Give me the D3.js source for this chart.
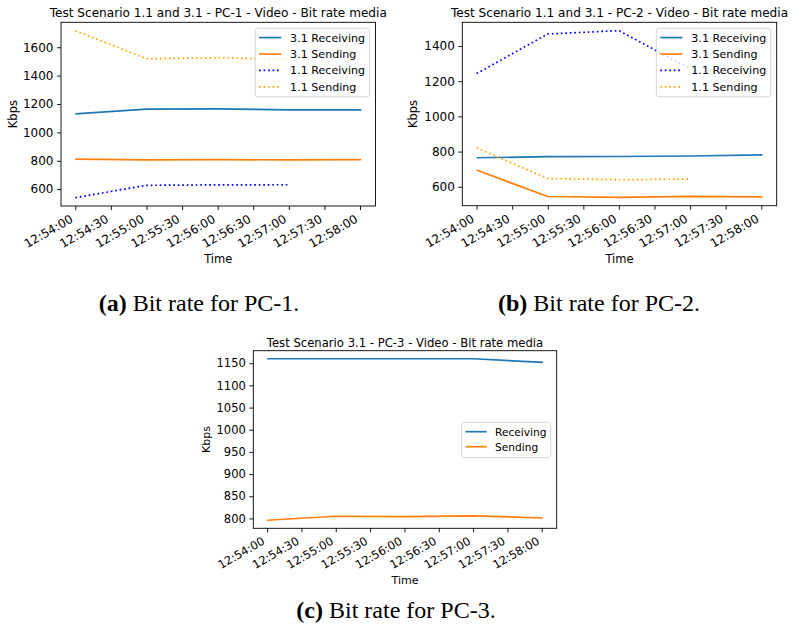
<!DOCTYPE html>
<html>
<head>
<meta charset="utf-8">
<script src="https://cdn.jsdelivr.net/npm/d3@7"></script>
<style>
  body { margin: 0; background: #fff; }
  svg { display: block; }
</style>
</head>
<body>
<svg id="fig" width="792" height="627"></svg>
<script>
// ---- data ----
const times31 = ["12:54:00", "12:55:00", "12:56:00", "12:57:00", "12:58:01"];
const times11 = ["12:54:00", "12:55:00", "12:56:00", "12:57:00"];
const xTickLabels = ["12:54:00", "12:54:30", "12:55:00", "12:55:30", "12:56:00",
                     "12:56:30", "12:57:00", "12:57:30", "12:58:00"];

// PC-1 (Kbps)
const pc1Receiving31 = [1131, 1164, 1166, 1158, 1159];
const pc1Sending31   = [811, 806, 808, 806, 808];
const pc1Receiving11 = [540, 627, 630, 631];
const pc1Sending11   = [1717, 1519, 1526, 1514];

// PC-2 (Kbps)
const pc2Receiving31 = [765, 771, 772, 775, 781];
const pc2Sending31   = [695, 545, 540, 546, 543];
const pc2Receiving11 = [1243, 1468, 1487, 1270];
const pc2Sending11   = [821, 647, 640, 644];

// PC-3 (Kbps)
const pc3Receiving = [1160, 1160, 1160, 1160, 1152];
const pc3Sending   = [796, 805, 804, 806, 801];

const yTicksPC1 = [600, 800, 1000, 1200, 1400, 1600];
const yTicksPC2 = [600, 800, 1000, 1200, 1400];
const yTicksPC3 = [800, 850, 900, 950, 1000, 1050, 1100, 1150];

const parseTime = d3.timeParse("%H:%M:%S");
const fmtTime = d3.timeFormat("%H:%M:%S");

const C_BLUE = "#1f77b4", C_ORANGE = "#ff7f0e";
const C_DBLUE = "#0000ff", C_DORANGE = "#ffa500";

const svg = d3.select("#fig");

// axis limits padded by 5% of the data span on each side
function pad5(ext) {
  const span = ext[1] - ext[0];
  return [ext[0] - span * 0.05, ext[1] + span * 0.05];
}

function drawPanel(cfg) {
  const { left, top, right, bottom } = cfg.box;
  const fs = cfg.fontSize;
  const g = svg.append("g");

  const allT = cfg.series.flatMap(s => s.times.map(parseTime));
  const allV = cfg.series.flatMap(s => s.values);
  const tExt = d3.extent(allT).map(d => +d);
  const vExt = d3.extent(allV);

  const x = d3.scaleTime().domain(pad5(tExt).map(d => new Date(d))).range([left, right]);
  const y = d3.scaleLinear().domain(pad5(vExt)).range([bottom, top]);

  const clipId = "clip" + cfg.id;
  g.append("clipPath").attr("id", clipId)
    .append("rect").attr("x", left).attr("y", top)
    .attr("width", right - left).attr("height", bottom - top);

  const line = d3.line().x(d => x(d.t)).y(d => y(d.v));
  const lines = g.append("g").attr("clip-path", `url(#${clipId})`);
  cfg.series.forEach(s => {
    const pts = s.times.map((t, i) => ({ t: parseTime(t), v: s.values[i] }));
    lines.append("path")
      .attr("d", line(pts))
      .attr("fill", "none")
      .attr("stroke", s.color)
      .attr("stroke-width", 1.7)
      .attr("stroke-linejoin", "round")
      .attr("stroke-dasharray", s.dotted ? "1.7,2.8" : null);
  });

  // y axis
  const yAxis = d3.axisLeft(y).tickValues(cfg.yTicks).tickSize(4).tickPadding(3.5)
    .tickFormat(d3.format("d"));
  const ya = g.append("g").attr("transform", `translate(${left},0)`).call(yAxis);
  ya.select(".domain").remove();
  ya.selectAll(".tick line").attr("stroke", "#000").attr("stroke-width", 0.9);
  ya.selectAll(".tick text")
    .attr("font-family", "DejaVu Sans").attr("font-size", fs).attr("fill", "#000");

  // x axis: ticks every 30 s, labels rotated 30 degrees
  const xAxis = d3.axisBottom(x).tickValues(xTickLabels.map(parseTime))
    .tickSize(4).tickFormat(() => "");
  const xa = g.append("g").attr("transform", `translate(0,${bottom})`).call(xAxis);
  xa.select(".domain").remove();
  xa.selectAll(".tick line").attr("stroke", "#000").attr("stroke-width", 0.9);
  xTickLabels.forEach(lbl => {
    const tx = x(parseTime(lbl));
    g.append("text")
      .attr("transform", `translate(${tx - 1.4},${bottom + 7.5 + fs * 0.66}) rotate(-30)`)
      .attr("text-anchor", "end")
      .attr("font-family", "DejaVu Sans").attr("font-size", fs).attr("fill", "#000")
      .text(fmtTime(parseTime(lbl)));
  });

  // frame
  g.append("rect").attr("x", left).attr("y", top)
    .attr("width", right - left).attr("height", bottom - top)
    .attr("fill", "none").attr("stroke", "#000").attr("stroke-width", 0.9);

  // title and axis labels
  g.append("text").attr("x", (left + right) / 2).attr("y", cfg.titleY)
    .attr("text-anchor", "middle").attr("font-family", "DejaVu Sans")
    .attr("font-size", cfg.titleSize).attr("fill", "#000").text(cfg.title);
  g.append("text").attr("x", (left + right) / 2).attr("y", cfg.xLabelY)
    .attr("text-anchor", "middle").attr("font-family", "DejaVu Sans")
    .attr("font-size", cfg.labelSize).attr("fill", "#000").text("Time");
  g.append("text")
    .attr("transform", `translate(${cfg.yLabelX},${(top + bottom) / 2}) rotate(-90)`)
    .attr("text-anchor", "middle").attr("font-family", "DejaVu Sans")
    .attr("font-size", cfg.labelSize).attr("fill", "#000").text("Kbps");

  // legend
  const L = cfg.legend;
  const lfs = L.fontSize;
  const handle = 2 * lfs, hpad = 0.8 * lfs, inner = 0.35 * lfs;
  const lg = g.append("g");
  const frame = lg.append("rect");
  const texts = [];
  cfg.series.forEach((s, i) => {
    const cy = i * L.rowStep;
    lg.append("line")
      .attr("x1", inner).attr("x2", inner + handle).attr("y1", cy).attr("y2", cy)
      .attr("stroke", s.color).attr("stroke-width", 1.7)
      .attr("stroke-dasharray", s.dotted ? "1.7,2.8" : null);
    texts.push(lg.append("text").attr("x", inner + handle + hpad).attr("y", cy).attr("dy", "0.36em")
      .attr("font-family", "DejaVu Sans").attr("font-size", lfs).attr("fill", "#000")
      .text(s.name));
  });
  const maxW = d3.max(texts, t => t.node().getComputedTextLength());
  const w = inner + handle + hpad + maxW + 0.4 * lfs;
  const h = L.padTop + (cfg.series.length - 1) * L.rowStep + L.padBottom;
  const lx = right - 6 - w;
  const ly = L.centerY != null ? L.centerY - h / 2 : top + 6;
  frame.attr("x", 0).attr("y", -L.padTop).attr("width", w).attr("height", h)
    .attr("rx", 2.5).attr("fill", "#fff").attr("fill-opacity", 0.8)
    .attr("stroke", "#d0d0d0").attr("stroke-width", 0.9);
  lg.attr("transform", `translate(${lx},${ly + L.padTop})`);

  // caption
  const cap = g.append("text").attr("x", cfg.caption.x).attr("y", cfg.caption.y)
    .attr("text-anchor", "middle").attr("font-family", "Liberation Serif")
    .attr("font-size", 24).attr("fill", "#000");
  cap.append("tspan").attr("font-weight", "bold").text(cfg.caption.tag);
  cap.append("tspan").text(" " + cfg.caption.text);
}

drawPanel({
  id: "a",
  box: { left: 61, top: 22.3, right: 375.5, bottom: 206 },
  fontSize: 12, titleSize: 12.1, labelSize: 11.5, titleY: 17, xLabelY: 263, yLabelX: 16.5,
  title: "Test Scenario 1.1 and 3.1 - PC-1 - Video - Bit rate media",
  yTicks: yTicksPC1,
  series: [
    { name: "3.1 Receiving", times: times31, values: pc1Receiving31, color: C_BLUE },
    { name: "3.1 Sending", times: times31, values: pc1Sending31, color: C_ORANGE },
    { name: "1.1 Receiving", times: times11, values: pc1Receiving11, color: C_DBLUE, dotted: true },
    { name: "1.1 Sending", times: times11, values: pc1Sending11, color: C_DORANGE, dotted: true }
  ],
  legend: { fontSize: 11.1, rowStep: 16.4, padTop: 9.3, padBottom: 10 },
  caption: { tag: "(a)", text: "Bit rate for PC-1.", x: 199, y: 311 }
});

drawPanel({
  id: "b",
  box: { left: 462.3, top: 22.3, right: 776.7, bottom: 205.7 },
  fontSize: 12, titleSize: 12.1, labelSize: 11.5, titleY: 17, xLabelY: 263, yLabelX: 416.5,
  title: "Test Scenario 1.1 and 3.1 - PC-2 - Video - Bit rate media",
  yTicks: yTicksPC2,
  series: [
    { name: "3.1 Receiving", times: times31, values: pc2Receiving31, color: C_BLUE },
    { name: "3.1 Sending", times: times31, values: pc2Sending31, color: C_ORANGE },
    { name: "1.1 Receiving", times: times11, values: pc2Receiving11, color: C_DBLUE, dotted: true },
    { name: "1.1 Sending", times: times11, values: pc2Sending11, color: C_DORANGE, dotted: true }
  ],
  legend: { fontSize: 11.1, rowStep: 16.4, padTop: 9.3, padBottom: 10 },
  caption: { tag: "(b)", text: "Bit rate for PC-2.", x: 599, y: 311 }
});

drawPanel({
  id: "c",
  box: { left: 253.3, top: 350.7, right: 556.7, bottom: 528.3 },
  fontSize: 11.5, titleSize: 11.64, labelSize: 11, titleY: 346.5, xLabelY: 584, yLabelX: 210,
  title: "Test Scenario 3.1 - PC-3 - Video - Bit rate media",
  yTicks: yTicksPC3,
  series: [
    { name: "Receiving", times: times31, values: pc3Receiving, color: C_BLUE },
    { name: "Sending", times: times31, values: pc3Sending, color: C_ORANGE }
  ],
  legend: { fontSize: 10.6, rowStep: 15, padTop: 9.4, padBottom: 11, centerY: 440 },
  caption: { tag: "(c)", text: "Bit rate for PC-3.", x: 396, y: 618 }
});
</script>
</body>
</html>
